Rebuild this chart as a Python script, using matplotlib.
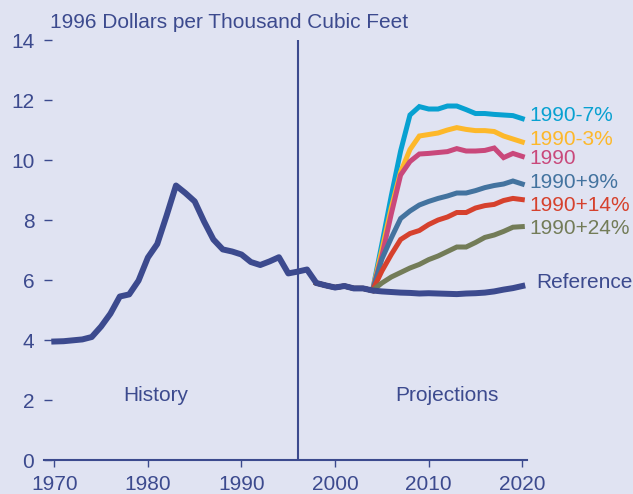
import numpy as np
import matplotlib.pyplot as plt

plt.rcParams['font.family'] = ['Liberation Sans', 'DejaVu Sans']

# Reference / history series (1970-2020)
ref_years = list(range(1970, 2021))
ref_values = [3.95, 3.96, 3.99, 4.02, 4.1, 4.45, 4.88, 5.45, 5.52, 5.98,
              6.75, 7.2, 8.15, 9.15, 8.9, 8.62, 7.95, 7.35, 7.02, 6.95,
              6.85, 6.6, 6.5, 6.62, 6.76, 6.22, 6.28, 6.35, 5.9, 5.82,
              5.75, 5.8, 5.72, 5.72, 5.65, 5.62, 5.6, 5.58, 5.57, 5.55,
              5.56, 5.55, 5.54, 5.53, 5.55, 5.56, 5.58, 5.62, 5.68, 5.73,
              5.8]

# Projection scenarios (2004-2020)
proj_years = list(range(2004, 2021))
minus7 = [5.65, 7.2, 8.8, 10.3, 11.5, 11.78, 11.7, 11.7, 11.8, 11.8,
          11.68, 11.55, 11.55, 11.52, 11.5, 11.48, 11.38]
minus3 = [5.65, 7.0, 8.4, 9.6, 10.35, 10.8, 10.85, 10.9, 11.0, 11.08,
          11.02, 10.98, 10.98, 10.95, 10.8, 10.7, 10.6]
base1990 = [5.65, 6.8, 8.2, 9.5, 9.95, 10.2, 10.22, 10.25, 10.28, 10.38,
            10.3, 10.3, 10.32, 10.4, 10.08, 10.22, 10.12]
plus9 = [5.65, 6.7, 7.4, 8.05, 8.3, 8.5, 8.62, 8.72, 8.8, 8.9,
         8.9, 8.98, 9.08, 9.15, 9.2, 9.3, 9.2]
plus14 = [5.65, 6.3, 6.85, 7.35, 7.55, 7.65, 7.85, 8.0, 8.1, 8.25,
          8.25, 8.4, 8.48, 8.52, 8.65, 8.72, 8.68]
plus24 = [5.65, 5.9, 6.1, 6.25, 6.4, 6.52, 6.68, 6.8, 6.95, 7.1,
          7.1, 7.25, 7.42, 7.5, 7.62, 7.76, 7.78]

labels = ['1990-7%', '1990-3%', '1990', '1990+9%', '1990+14%', '1990+24%']
series = [minus7, minus3, base1990, plus9, plus14, plus24]
colors = ['#08A1D1', '#FDB82A', '#C9487B', '#43739F', '#D6412D', '#737C58']
label_y = [11.5, 10.67, 10.06, 9.24, 8.5, 7.72]

bg = '#E0E3F2'
navy = '#3C4A8E'
fs = 15

fig = plt.figure(figsize=(6.33, 4.94), dpi=100, facecolor=bg)
ax = fig.add_axes([0.0695, 0.0688, 0.763, 0.8502], facecolor=bg)

# shared stretch 1998-2003 sits under the reference line
shared_years = ref_years[28:34]
shared_vals = ref_values[28:34]

for vals, col in zip(series, colors):
    ax.plot(shared_years + proj_years, shared_vals + vals, color=col,
            linewidth=3.6, solid_joinstyle='miter', zorder=2)

ax.plot(ref_years, ref_values, color=navy, linewidth=4.3, zorder=3)

ax.axvline(1996, color=navy, linewidth=1.5, zorder=1)

for lab, col, y in zip(labels, colors, label_y):
    ax.text(2020.8, y, lab, color=col, fontsize=fs, va='center',
            ha='left', clip_on=False)
ax.text(2021.5, 5.91, 'Reference', color=navy, fontsize=fs, va='center',
        ha='left', clip_on=False)

ax.text(1980.8, 2.15, 'History', color=navy, fontsize=fs, ha='center', va='center')
ax.text(2011.9, 2.15, 'Projections', color=navy, fontsize=fs, ha='center', va='center')

fig.text(0.079, 0.955, '1996 Dollars per Thousand Cubic Feet', color=navy,
         fontsize=fs, ha='left', va='center')

ax.set_xlim(1968.9, 2020.5)
ax.set_ylim(0, 14)
ax.set_xticks(range(1970, 2021, 10))
ax.set_yticks(range(0, 15, 2))

for side in ['top', 'right', 'left']:
    ax.spines[side].set_visible(False)
ax.spines['bottom'].set_color(navy)
ax.spines['bottom'].set_linewidth(1.5)

ax.tick_params(axis='x', direction='out', length=5, width=1, color=navy,
               labelcolor=navy, labelsize=fs, pad=6)
ax.tick_params(axis='y', direction='in', length=6, width=1, color=navy,
               labelcolor=navy, labelsize=fs, pad=7)

fig.savefig('out.png', dpi=100, facecolor=bg)
